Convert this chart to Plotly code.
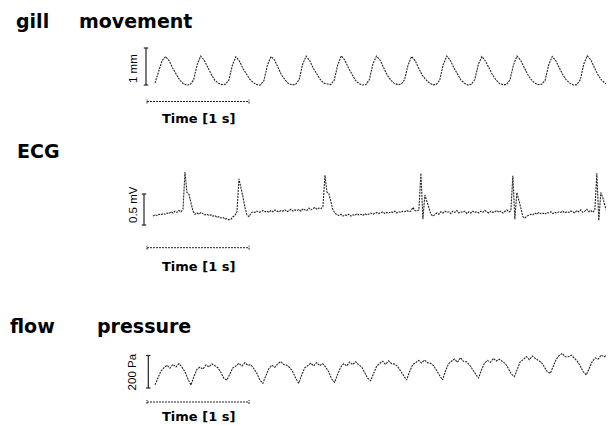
import plotly.graph_objects as go

# ---------------- data ----------------
# gill movement, mm above the trough level, uniform sampling
gill_t0_s = 0.0784
gill_dt_s = 0.03446
gill_mm = [
    0.05, 0.36, 0.66,
    0.77, 0.66, 0.46, 0.28, 0.14, 0.04, 0.00, 0.01, 0.14, 0.55,
    0.78, 0.67, 0.47, 0.29, 0.13, 0.05, 0.01, 0.02, 0.13, 0.53,
    0.76, 0.65, 0.45, 0.28, 0.15, 0.06, 0.01, 0.00, 0.12, 0.54,
    0.77, 0.68, 0.47, 0.27, 0.14, 0.04, 0.00, 0.02, 0.14, 0.56,
    0.78, 0.66, 0.46, 0.29, 0.15, 0.05, 0.02, 0.01, 0.13, 0.55,
    0.79, 0.67, 0.47, 0.28, 0.13, 0.04, 0.00, 0.01, 0.15, 0.57,
    0.78, 0.68, 0.48, 0.28, 0.14, 0.05, 0.01, 0.02, 0.14, 0.54,
    0.77, 0.66, 0.46, 0.27, 0.15, 0.06, 0.01, 0.01, 0.13, 0.55,
    0.78, 0.67, 0.47, 0.29, 0.14, 0.05, 0.00, 0.02, 0.15, 0.56,
    0.77, 0.65, 0.45, 0.28, 0.14, 0.04, 0.01, 0.01, 0.14, 0.55,
    0.78, 0.67, 0.48, 0.29, 0.15, 0.05, 0.01, 0.02, 0.13, 0.54,
    0.77, 0.66, 0.47, 0.28, 0.14, 0.05, 0.00, 0.01, 0.14, 0.57,
    0.79, 0.68, 0.47, 0.28, 0.14, 0.05, 0.01, 0.06,
]

# ECG, mV relative to the baseline, uniform sampling
ecg_t0_s = 0.0588
ecg_dt_s = 0.0196
ecg_mv = [
    -0.05, -0.03, -0.04, -0.02, -0.03, -0.01, -0.02, 0.00, -0.01, 0.02, 0.00, 0.03, 0.01, 0.04, 0.02, 0.06,
    0.66, 0.33, 0.30, 0.14, 0.03, -0.02,
    0.00, -0.02, 0.01, -0.01, -0.03, -0.02, -0.04, -0.03, -0.05, -0.04, -0.07, -0.06, -0.08, -0.07, -0.10,
    -0.09, -0.11, -0.10, -0.06, -0.04, 0.02,
    0.55, 0.42, 0.26, 0.09, -0.03, -0.06,
    0.00, 0.02, 0.01, 0.03, 0.01, 0.02, 0.04, 0.02, 0.03, 0.01, 0.04, 0.02, 0.05, 0.03, 0.02, 0.04, 0.03,
    0.05, 0.02, 0.04, 0.06, 0.03, 0.05, 0.04, 0.06, 0.03, 0.07, 0.05, 0.04, 0.08, 0.05, 0.07, 0.09, 0.06,
    0.08, 0.07, 0.10,
    0.61, 0.34, 0.31, 0.16, 0.05, 0.00, -0.03,
    -0.04, -0.02, -0.05, -0.03, -0.04, -0.02, -0.05, -0.03, -0.04, -0.01, -0.03, -0.02, -0.04, -0.01,
    -0.03, -0.02, 0.00, -0.02, -0.01, 0.01, -0.01, 0.00, 0.02, -0.01, 0.01, 0.00, 0.02, 0.01, 0.03, 0.00,
    0.02, 0.01, 0.03, 0.02, 0.04, 0.02, 0.03, 0.09, 0.04, 0.03, 0.05,
    0.64, -0.10, 0.29, 0.18, 0.06, -0.02, -0.05,
    -0.03, 0.00, -0.02, 0.02, 0.00, 0.03, 0.01, 0.02, -0.01, 0.03, 0.01, 0.04, 0.00, 0.02, 0.01, 0.03,
    -0.01, 0.02, 0.00, 0.03, 0.01, 0.02, 0.00, 0.03, 0.01, 0.04, 0.02, 0.00, 0.03, 0.01, 0.02, 0.04,
    0.01, 0.03, 0.00, 0.02, 0.05, 0.02,
    0.03,
    0.60, -0.10, 0.33, 0.22, 0.08, -0.06, -0.08, -0.05,
    -0.04, -0.02, -0.03, 0.00, -0.02, 0.01, -0.01, 0.00, -0.02, 0.01, 0.00, 0.02, -0.01, 0.01, 0.00,
    0.02, 0.01, 0.03, 0.00, 0.02, 0.01, 0.03, 0.02, 0.00, 0.04, 0.02, 0.05, 0.01, 0.03, 0.06, 0.02,
    0.04, 0.01, 0.05,
    0.64, -0.12, 0.33, 0.25, 0.12, 0.03, -0.02, -0.03, -0.02,
]

# flow pressure, Pa, uniform sampling
pressure_t0_s = 0.0784
pressure_dt_s = 0.02936
pressure_pa = [
    20, 60, 105, 125, 140, 122, 145, 130, 150, 128, 100, 55,
    18, 70, 115, 128, 116, 142, 130, 148, 134, 125, 95, 60,
    49, 85, 124, 135, 152, 136, 155, 140, 143, 120, 90, 50,
    29, 75, 118, 140, 128, 150, 162, 144, 140, 125, 100, 60,
    29, 80, 124, 138, 152, 136, 157, 138, 150, 128, 100, 55,
    35, 85, 128, 150, 136, 160, 144, 162, 142, 130, 95, 60,
    45, 95, 134, 150, 165, 146, 167, 150, 147, 133, 105, 70,
    49, 100, 143, 155, 170, 154, 172, 156, 152, 138, 110, 75,
    49, 105, 148, 165, 178, 158, 187, 164, 162, 143, 115, 80,
    60, 110, 152, 170, 158, 182, 166, 177, 162, 150, 120, 85,
    70, 120, 163, 175, 193, 174, 197, 181, 172, 158, 130, 100,
    90, 140, 178, 200, 213, 192, 192, 202, 182, 165, 135, 100,
    80, 125, 163, 185, 178, 202, 192, 205, 188, 198,
]

# scale bars
time_scale_s = [0, 1]
gill_scale_mm = [0, 1]
ecg_scale_mv = [-0.194, 0.306]
pressure_scale_pa = [0, 200]

panel_titles = [("gill", "movement"), ("ECG", ""), ("flow", "pressure")]
scale_labels = ["1 mm", "0.5 mV", "200 Pa"]
time_label = "Time [1 s]"

# ---------------- layout geometry ----------------
OFF = 8                              # page body margin of the browser
W, H = 614 - OFF, 425 - OFF
X0_PX, PX_PER_S = 147, 102          # time 0 position and 1 s length (page pixels)
# (zero level page pixel, pixels per unit) for each panel
panels = [(85, 37.0), (213, 62.0), (388, 32.5 / 200.0)]

LINE = "#222222"
DASH = "2px,1px"


def t_of(t0, dt, n):
    return [t0 + i * dt for i in range(n)]


def px_x(p):
    return (p - OFF) / W


def px_y(p):
    return 1 - (p - OFF) / H


fig = go.Figure()

traces = [
    (t_of(gill_t0_s, gill_dt_s, len(gill_mm)), gill_mm, "y"),
    (t_of(ecg_t0_s, ecg_dt_s, len(ecg_mv)), ecg_mv, "y2"),
    (t_of(pressure_t0_s, pressure_dt_s, len(pressure_pa)), pressure_pa, "y3"),
]
for (tx, vy, ax) in traces:
    fig.add_trace(go.Scatter(x=tx, y=vy, mode="lines", yaxis=ax, xaxis="x",
                             line=dict(color=LINE, width=1.1, dash=DASH),
                             hoverinfo="skip", showlegend=False))

vbar_px = [146, 144, 148.3]
vscales = [gill_scale_mm, ecg_scale_mv, pressure_scale_pa]
tbar_px = [101.5, 247.7, 402.0]
tlabel_px = [118, 266.7, 416.0]
axes_names = ["y", "y2", "y3"]

for k in range(3):
    zero_px, ppu = panels[k]
    ax = axes_names[k]
    bx = (vbar_px[k] - X0_PX) / PX_PER_S
    cap = 2.2 / PX_PER_S
    v0, v1 = vscales[k]
    fig.add_trace(go.Scatter(
        x=[bx - cap, bx + cap, None, bx, bx, None, bx - cap, bx + cap],
        y=[v0, v0, None, v0, v1, None, v1, v1],
        mode="lines", yaxis=ax, line=dict(color=LINE, width=1.2),
        hoverinfo="skip", showlegend=False))
    lvl = (zero_px - tbar_px[k]) / ppu
    tick = 2.0 / ppu
    ta, tb = time_scale_s
    fig.add_trace(go.Scatter(
        x=[ta, tb, None, ta, ta, None, tb, tb],
        y=[lvl, lvl, None, lvl - tick, lvl + tick, None, lvl - tick, lvl + tick],
        mode="lines", yaxis=ax, line=dict(color=LINE, width=1, dash=DASH),
        hoverinfo="skip", showlegend=False))
    fig.add_annotation(x=(ta + tb) / 2, y=(zero_px - tlabel_px[k]) / ppu,
                       xref="x", yref=ax, text=time_label, showarrow=False,
                       xanchor="center", yanchor="middle",
                       font=dict(family="DejaVu Sans", size=13, color="black", weight="bold"))

slabel_px = [(133.5, 68.5), (133.0, 205.0), (131.7, 371.7)]
for (lx, ly), txt in zip(slabel_px, scale_labels):
    fig.add_annotation(x=px_x(lx), y=px_y(ly), xref="paper", yref="paper",
                       text=txt, showarrow=False, textangle=-90,
                       xanchor="center", yanchor="middle",
                       font=dict(family="Liberation Sans", size=11.5, color="black"))

title_pos = [((14, 77), 21), ((15, None), 151), ((8, 95), 326)]
for (words, ((xa, xb), yc)) in zip(panel_titles, title_pos):
    for w, xp in zip(words, (xa, xb)):
        if not w:
            continue
        fig.add_annotation(x=px_x(xp), y=px_y(yc), xref="paper", yref="paper",
                           text=w, showarrow=False, xanchor="left", yanchor="middle",
                           font=dict(family="DejaVu Sans", size=19, color="black",
                                     weight="bold"))

hidden = dict(visible=False, showgrid=False, zeroline=False, fixedrange=True)
layout_axes = {}
for k, name in enumerate(["yaxis", "yaxis2", "yaxis3"]):
    zero_px, ppu = panels[k]
    r1 = (zero_px - OFF) / ppu
    r0 = r1 - H / ppu
    d = dict(hidden, range=[r0, r1], domain=[0, 1])
    if k > 0:
        d["overlaying"] = "y"
    layout_axes[name] = d

x_left = -(X0_PX - OFF) / PX_PER_S
fig.update_layout(
    width=W, height=H,
    margin=dict(l=0, r=0, t=0, b=0, pad=0),
    paper_bgcolor="white", plot_bgcolor="white",
    xaxis=dict(hidden, range=[x_left, x_left + W / PX_PER_S], domain=[0, 1]),
    showlegend=False,
    **layout_axes,
)

fig.write_html("out.html")
